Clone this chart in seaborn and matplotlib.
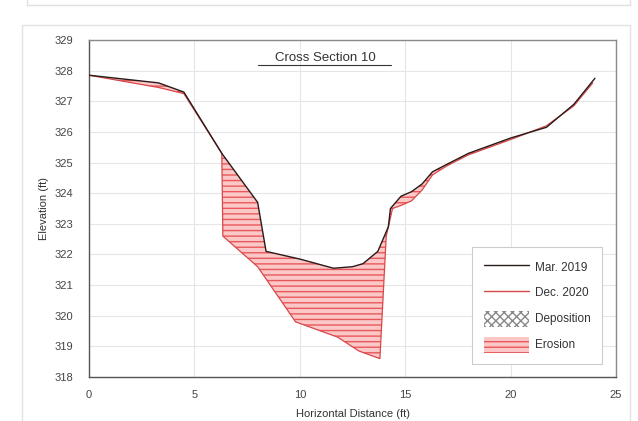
import numpy as np
import matplotlib
matplotlib.use("Agg")
import matplotlib.pyplot as plt
import seaborn as sns
from matplotlib.lines import Line2D
from matplotlib.patches import Patch, Rectangle

# ---- data ----
mar2019_x = [0, 3.3, 4.5, 6.3, 8.0, 8.4, 10.0, 11.6, 12.5, 13.0, 13.7, 14.2, 14.3, 14.8, 15.3, 15.8, 16.3, 17.0, 18.0, 20.0, 21.7, 23.0, 24.0]
mar2019_y = [327.85, 327.6, 327.3, 325.3, 323.7, 322.1, 321.85, 321.55, 321.6, 321.7, 322.1, 322.9, 323.5, 323.9, 324.05, 324.3, 324.7, 324.95, 325.3, 325.8, 326.15, 326.9, 327.75]
dec2020_x = [0, 3.3, 4.5, 6.3, 6.35, 8.0, 9.8, 11.8, 12.8, 13.8, 14.1, 14.4, 14.8, 15.3, 15.8, 16.3, 17.0, 18.0, 20.0, 21.7, 23.0, 23.9]
dec2020_y = [327.85, 327.45, 327.25, 325.3, 322.6, 321.6, 319.8, 319.3, 318.85, 318.6, 322.6, 323.5, 323.6, 323.75, 324.1, 324.6, 324.9, 325.25, 325.75, 326.2, 326.85, 327.6]
series_labels = ["Mar. 2019", "Dec. 2020"]
fill_labels = ["Deposition", "Erosion"]
title_text = "Cross Section 10"
xticks = [0, 5, 10, 15, 20, 25]
yticks = list(range(318, 330))

sns.set_style("white")
plt.rcParams['font.family'] = ['Liberation Sans', 'DejaVu Sans']
plt.rcParams['hatch.linewidth'] = 1.0

fig = plt.figure(figsize=(6.38, 4.21), dpi=100)
# outer panel borders
fig.patches.append(Rectangle((22/638, -0.01), 608/638, 1 - 25/421 + 0.01, transform=fig.transFigure,
                             fill=False, edgecolor="#e2e2e2", lw=1.0))
fig.add_artist(Line2D([27/638, 630/638], [1 - 5/421, 1 - 5/421], transform=fig.transFigure,
                      color="#e0e0e0", lw=1.0))
fig.add_artist(Line2D([27/638, 27/638], [1 - 5/421, 1.0], transform=fig.transFigure,
                      color="#e0e0e0", lw=1.0))
fig.add_artist(Line2D([630/638, 630/638], [1 - 5/421, 1.0], transform=fig.transFigure,
                      color="#e0e0e0", lw=1.0))

ax = fig.add_axes([89/638, 1 - 377/421, 527/638, 337/421])

# fills on a common grid
grid = np.union1d(mar2019_x, dec2020_x)
grid = grid[grid <= min(max(mar2019_x), max(dec2020_x))]
m = np.interp(grid, mar2019_x, mar2019_y)
d = np.interp(grid, dec2020_x, dec2020_y)
ax.fill_between(grid, m, d, where=d < m, interpolate=True, facecolor="#fbc7c7",
                edgecolor="#e8585a", hatch="---", linewidth=0, zorder=2)
ax.fill_between(grid, m, d, where=d > m, interpolate=True, facecolor="white",
                edgecolor="#888888", hatch="xxxx", linewidth=0, zorder=2)

sns.lineplot(x=mar2019_x, y=mar2019_y, ax=ax, color="#2a1a1a", lw=1.0, sort=False,
             estimator=None, zorder=4)
sns.lineplot(x=dec2020_x, y=dec2020_y, ax=ax, color="#d94848", lw=0.9, sort=False,
             estimator=None, zorder=3)

ax.set_xlim(0, 25)
ax.set_ylim(318, 329)
ax.set_xticks(xticks)
ax.set_yticks(yticks)
ax.grid(True, color="#e6e6e6", lw=0.8)
ax.set_axisbelow(True)
for s in ax.spines.values():
    s.set_color("#8a8a8a")
    s.set_linewidth(1.0)
ax.spines['left'].set_color("#555555")
ax.spines['bottom'].set_color("#555555")
ax.tick_params(direction="inout", length=5, width=0.8, color="#555555",
               labelsize=8, labelcolor="#444444")
ax.tick_params(axis="y", pad=9)
ax.tick_params(axis="x", pad=7)
ax.set_xlabel("Horizontal Distance (ft)", fontsize=8, color="#333333", labelpad=6)
ax.set_ylabel("Elevation (ft)", fontsize=8, color="#333333", labelpad=4)

ax.text(11.2, 328.3, title_text, ha="center", va="baseline", fontsize=9.5, color="#333333", zorder=5)
ax.plot([8.0, 14.35], [328.2, 328.2], color="#333333", lw=0.8, zorder=5)

handles = [
    Line2D([0], [0], color="#2a1a1a", lw=1.0),
    Line2D([0], [0], color="#d94848", lw=1.0),
    Patch(facecolor="white", edgecolor="#888888", hatch="xxxx", lw=0),
    Patch(facecolor="#fbc7c7", edgecolor="#e8585a", hatch="---", lw=0),
]
leg = ax.legend(handles, series_labels + fill_labels, loc="lower right",
                bbox_to_anchor=(0.985, 0.02), fontsize=8.5, frameon=True, fancybox=False,
                edgecolor="#cccccc", framealpha=1, handlelength=3.8, handleheight=1.7,
                labelspacing=0.85, borderpad=1.0, handletextpad=0.5)
leg.get_frame().set_linewidth(0.8)
for txt in leg.get_texts():
    txt.set_color("#333333")

fig.savefig("out.png", dpi=100)
